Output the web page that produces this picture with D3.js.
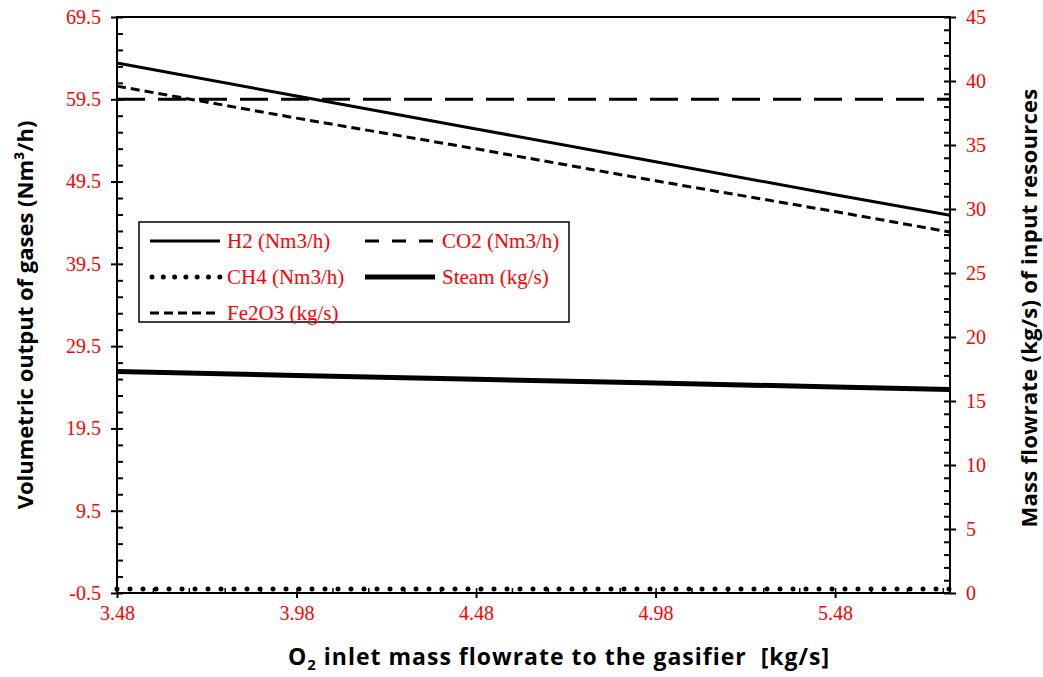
<!DOCTYPE html>
<html>
<head>
<meta charset="utf-8">
<script src="https://cdn.jsdelivr.net/npm/d3@7"></script>
<style>
  body { margin: 0; background: #fff; }
  .tick-lbl { font-family: "Liberation Serif", "Times New Roman", serif; font-size: 20px; fill: #ff0000; }
  .title { font-family: "Open Sans", "Noto Sans", sans-serif; font-weight: bold; font-size: 22px; fill: #000; white-space: pre; }
  .leg { font-family: "Liberation Serif", "Times New Roman", serif; font-size: 21px; fill: #ff0000; }
</style>
</head>
<body>
<svg width="1043" height="677"></svg>
<script>
var svg = d3.select("svg");

// data
var o2Flow = [3.48, 3.98, 4.48, 4.98, 5.48, 5.8];
var h2 = [63.9, 59.9, 55.9, 51.9, 47.9, 45.4];     // Nm3/h, left axis
var co2 = [59.5, 59.5, 59.5, 59.5, 59.5, 59.5];    // Nm3/h, left axis
var ch4 = [0, 0, 0, 0, 0, 0];                      // Nm3/h, left axis
var steam = [17.3, 17.0, 16.7, 16.4, 16.1, 15.9];  // kg/s, right axis
var fe2o3 = [39.6, 37.1, 34.7, 32.2, 29.8, 28.2];  // kg/s, right axis

var xTicks = [3.48, 3.98, 4.48, 4.98, 5.48];
var leftTicks = [-0.5, 9.5, 19.5, 29.5, 39.5, 49.5, 59.5, 69.5];
var rightTicks = [0, 5, 10, 15, 20, 25, 30, 35, 40, 45];

var pLeft = 117, pRight = 950, pTop = 17, pBottom = 593;

var x = d3.scaleLinear().domain([3.48, 5.8]).range([pLeft, pRight]);
var yL = d3.scaleLinear().domain([-0.5, 69.5]).range([pBottom, pTop]);
var yR = d3.scaleLinear().domain([0, 45]).range([pBottom, pTop]);

var g = svg.append("g");

function styleLabels(a) {
  a.select(".domain").remove();
  a.selectAll("line").attr("stroke-width", 2);
  a.selectAll("text").attr("class", "tick-lbl").attr("fill", null).attr("font-size", null).attr("font-family", null);
}

// left axis ticks
g.append("g")
    .attr("transform", "translate(" + pLeft + ",0)")
    .call(d3.axisRight(yL).tickValues(d3.range(-0.5, 70, 2)).tickSize(6).tickFormat(""))
    .call(function(a) { a.select(".domain").remove(); a.selectAll("line").attr("stroke-width", 2); });
g.append("g")
    .attr("transform", "translate(" + pLeft + ",0)")
    .call(d3.axisLeft(yL).tickValues(leftTicks).tickSize(6).tickPadding(10)
      .tickFormat(function(d) { return d.toFixed(1); }))
    .call(styleLabels);

// right axis ticks
g.append("g")
    .attr("transform", "translate(" + pRight + ",0)")
    .call(d3.axisLeft(yR).tickValues(d3.range(0, 46, 1)).tickSize(6).tickFormat(""))
    .call(function(a) { a.select(".domain").remove(); a.selectAll("line").attr("stroke-width", 2); });
g.append("g")
    .attr("transform", "translate(" + pRight + ",0)")
    .call(d3.axisRight(yR).tickValues(rightTicks).tickSize(6).tickPadding(10))
    .call(styleLabels);

// x axis ticks
g.append("g")
    .attr("transform", "translate(0," + pBottom + ")")
    .call(d3.axisTop(x).tickValues(d3.range(3.48, 5.8, 0.1)).tickSize(5).tickFormat(""))
    .call(function(a) { a.select(".domain").remove(); a.selectAll("line").attr("stroke-width", 1.5); });
g.append("g")
    .attr("transform", "translate(0," + pBottom + ")")
    .call(d3.axisBottom(x).tickValues(xTicks).tickSize(5).tickPadding(8).tickFormat(d3.format(".2f")))
    .call(styleLabels);

// frame: left, right, bottom axis lines + top border
g.append("rect")
    .attr("x", pLeft).attr("y", pTop)
    .attr("width", pRight - pLeft).attr("height", pBottom - pTop)
    .attr("fill", "none").attr("stroke", "#000").attr("stroke-width", 2);

// series
var series = [
  { name: "H2 (Nm3/h)", vals: h2, y: yL, w: 3, dash: null, cap: "butt" },
  { name: "CO2 (Nm3/h)", vals: co2, y: yL, w: 3, dash: "28,13", cap: "butt" },
  { name: "CH4 (Nm3/h)", vals: ch4, y: yL, w: 5, dash: "0,13", cap: "round" },
  { name: "Steam (kg/s)", vals: steam, y: yR, w: 5, dash: null, cap: "butt" },
  { name: "Fe2O3 (kg/s)", vals: fe2o3, y: yR, w: 3, dash: "9,5", cap: "butt" }
];

series.forEach(function(s) {
  var line = d3.line()
      .x(function(d, i) { return x(o2Flow[i]); })
      .y(function(d) { return s.y(d); });
  g.append("path")
      .datum(s.vals)
      .attr("d", line)
      .attr("fill", "none")
      .attr("stroke", "#000")
      .attr("stroke-width", s.w)
      .attr("stroke-linecap", s.cap)
      .attr("stroke-dasharray", s.dash);
});

// legend
var leg = svg.append("g").attr("transform", "translate(139,222)");
leg.append("rect")
    .attr("width", 430).attr("height", 100)
    .attr("fill", "#fff").attr("stroke", "#000").attr("stroke-width", 1.5);
var legPos = [[11, 19], [226, 19], [11, 55], [226, 55], [11, 91]];
series.forEach(function(s, i) {
  var p = legPos[i];
  var it = leg.append("g").attr("transform", "translate(" + p[0] + "," + p[1] + ")");
  it.append("line")
      .attr("x1", s.cap === "round" ? 2 : 0).attr("x2", 70)
      .attr("stroke", "#000")
      .attr("stroke-width", s.w)
      .attr("stroke-linecap", s.cap)
      .attr("stroke-dasharray", s.cap === "round" ? "0,11.3" : (s.dash === "28,13" ? "14,13" : s.dash));
  it.append("text").attr("class", "leg").attr("x", 77).attr("dy", "0.35em").text(s.name);
});

// axis titles
svg.append("text").attr("class", "title")
    .attr("transform", "translate(33,315) rotate(-90)")
    .attr("text-anchor", "middle")
    .text("Volumetric output of gases (Nm³/h)");
svg.append("text").attr("class", "title")
    .attr("transform", "translate(1037,308) rotate(-90)")
    .attr("text-anchor", "middle")
    .attr("font-size", 23).attr("letter-spacing", 0.3)
    .text("Mass flowrate (kg/s) of input resources");
var xt = svg.append("text").attr("class", "title")
    .attr("x", 559).attr("y", 665)
    .attr("text-anchor", "middle")
    .style("font-size", "23px").attr("letter-spacing", 1);
xt.append("tspan").text("O");
xt.append("tspan").attr("dy", 5).style("font-size", "15px").text("2");
xt.append("tspan").attr("dy", -5).text(" inlet mass flowrate to the gasifier  [kg/s]");
</script>
</body>
</html>
